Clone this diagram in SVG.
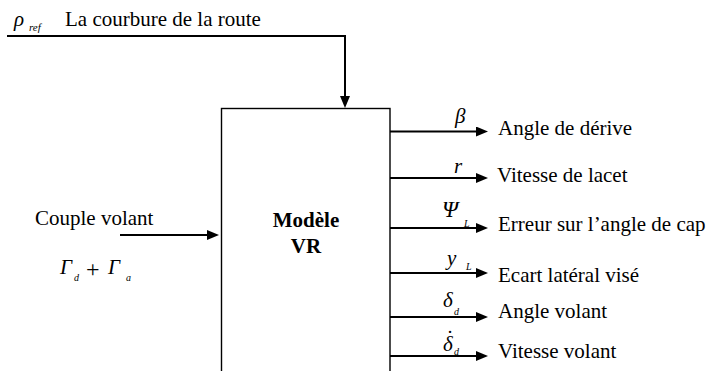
<svg xmlns="http://www.w3.org/2000/svg" width="712" height="371" viewBox="0 0 712 371">
<style>
text{font-family:'Liberation Serif','DejaVu Serif',serif;fill:#000}
.t{font-size:21px}
.m{font-style:italic;font-size:21px}
.s{font-style:italic;font-size:10px}
.b{font-weight:bold;font-size:21px;text-anchor:middle}
.c{fill:none;stroke:#000;stroke-width:2}
</style>
<defs>
<marker id="ah" viewBox="0 0 12 10" markerWidth="12" markerHeight="10" refX="2" refY="5" orient="auto" markerUnits="userSpaceOnUse">
<path d="M0,0 L12,5 L0,10 Z" fill="#000"/>
</marker>
</defs>
<g id="model">
<rect x="221.5" y="108.5" width="168.5" height="290" fill="#fff" stroke="#000" stroke-width="1.4"/>
<text class="b" x="306" y="227">Modèle</text>
<text class="b" x="306" y="253">VR</text>
</g>
<g id="connectors">
<path class="c" d="M7,36 H345 V98" marker-end="url(#ah)"/>
<path class="c" d="M120,235 H209" marker-end="url(#ah)"/>
<path class="c" d="M390,131.5 H478" marker-end="url(#ah)"/>
<path class="c" d="M390,178 H478" marker-end="url(#ah)"/>
<path class="c" d="M390,228 H478" marker-end="url(#ah)"/>
<path class="c" d="M390,273 H478" marker-end="url(#ah)"/>
<path class="c" d="M390,317 H478" marker-end="url(#ah)"/>
<path class="c" d="M390,356 H478" marker-end="url(#ah)"/>
</g>
<g id="input-road">
<text class="m" x="14" y="26">ρ<tspan class="s" x="29" y="31" style="font-size:11px">ref</tspan></text>
<text class="t" x="65" y="26">La courbure de la route</text>
</g>
<g id="input-torque">
<text class="t" x="35" y="225">Couple volant</text>
<text class="m" x="60" y="274">Γ<tspan class="s" x="74" y="281">d</tspan><tspan x="86" y="277" style="font-style:normal;font-size:24px">+</tspan><tspan x="108" y="274">Γ</tspan><tspan class="s" x="126" y="281">a</tspan></text>
</g>
<g id="out-beta">
<text class="m" x="455" y="123">β</text>
<text class="t" x="498" y="135">Angle de dérive</text>
</g>
<g id="out-r">
<text class="m" x="454" y="173">r</text>
<text class="t" x="497" y="182">Vitesse de lacet</text>
</g>
<g id="out-psi">
<text class="m" x="442" y="217" style="font-size:23px">Ψ<tspan class="s" x="464" y="227">L</tspan></text>
<text class="t" x="498" y="231">Erreur sur l’angle de cap</text>
</g>
<g id="out-y">
<text class="m" x="447" y="265">y<tspan class="s" x="466" y="270">L</tspan></text>
<text class="t" x="498" y="282">Ecart latéral visé</text>
</g>
<g id="out-delta">
<text class="m" x="443" y="307">δ<tspan class="s" x="454" y="315">d</tspan></text>
<text class="t" x="498" y="318">Angle volant</text>
</g>
<g id="out-deltadot">
<text class="m" x="443" y="351">δ<tspan x="446.5" y="345" style="font-style:normal">˙</tspan><tspan class="s" x="454" y="355">d</tspan></text>
<text class="t" x="498" y="358">Vitesse volant</text>
</g>
</svg>
